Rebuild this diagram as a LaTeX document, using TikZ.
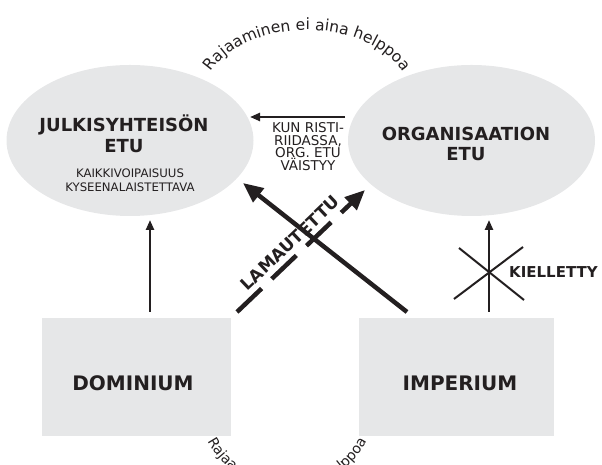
\documentclass[tikz,border=0pt]{standalone}
\usepackage{fontspec}
\setmainfont{DejaVu Sans}
\usetikzlibrary{arrows.meta,decorations.text,shapes.geometric}
\definecolor{ink}{HTML}{231F20}
\definecolor{pale}{HTML}{E6E7E8}
\newcommand\arcfnt{\fontsize{15.6}{17}\selectfont}
\newcommand\arcfntb{\fontsize{14}{16}\selectfont}
\begin{document}
\begin{tikzpicture}[x=1pt,y=1pt,
  blob/.style={ellipse, fill=pale, minimum width=247pt, minimum height=151pt, inner sep=0pt},
  slab/.style={rectangle, fill=pale, minimum height=118pt, inner sep=0pt},
  headtxt/.style={font=\bfseries\fontsize{18}{20.5}\selectfont, text=ink, align=center, inner sep=0pt},
  subtxt/.style={font=\fontsize{11.7}{14}\selectfont, text=ink, align=center, inner sep=0pt},
  boxtxt/.style={font=\bfseries\fontsize{20}{24}\selectfont, text=ink, inner sep=0pt},
  notetxt/.style={font=\fontsize{13.5}{12.3}\selectfont, text=ink, align=center, inner sep=0pt},
  thinarrow/.style={draw=ink, line width=2.3pt, -{Triangle[length=10pt,width=8pt]}},
  thickarrow/.style={draw=ink, line width=4.5pt, -{Triangle[length=20pt,width=17pt]}},
  crossline/.style={draw=ink, line width=2pt}
]
\useasboundingbox (0,0) rectangle (602,465);

% ellipses and boxes
\node[blob] (pub) at (130,324.5) {};
\node[blob] (org) at (471.5,324.5) {};
\node[slab, minimum width=189pt] (dom) at (136.5,88) {};
\node[slab, minimum width=195pt] (imp) at (456.5,88) {};

% texts
\node[headtxt] (pubt) at (124,331) {JULKISYHTEISÖN\\ETU};
\node[subtxt] (pubs) at (130,284.5) {KAIKKIVOIPAISUUS\\KYSEENALAISTETTAVA};
\node[headtxt] (orgt) at (466,321) {ORGANISAATION\\ETU};
\node[boxtxt] (domt) at (133,82) {DOMINIUM};
\node[boxtxt] (impt) at (460,82) {IMPERIUM};
\node[notetxt] (note) at (308,318) {KUN RISTI-\\RIIDASSA,\\ORG. ETU\\VÄISTYY};
\node[font=\bfseries\fontsize{15}{17}\selectfont, text=ink, anchor=west, inner sep=0pt] (ban) at (509,193) {KIELLETTY};
\node[font=\bfseries\fontsize{17}{20}\selectfont, text=ink, rotate=43.6, inner sep=0pt] (lam) at (290,222) {LAMAUTETTU};

% connectors
\coordinate (hA) at (345,348);
\coordinate (hB) at (250,348);
\draw[thinarrow] (hA) -- (hB);

\coordinate (vA) at (150,153);
\coordinate (vB) at (150,245);
\draw[thinarrow] (vA) -- (vB);

\coordinate (wA) at (489,153);
\coordinate (wB) at (489,245);
\draw[thinarrow] (wA) -- (wB);

\coordinate (xA) at (459,217);
\coordinate (xB) at (524,165);
\coordinate (xC) at (523,218);
\coordinate (xD) at (454,166);
\draw[crossline] (xA) -- (xB);
\draw[crossline] (xC) -- (xD);

\coordinate (sA) at (407,153);
\coordinate (sB) at (243,282);
\draw[thickarrow] (sA) -- (sB);

\coordinate (dA) at (237,153);
\coordinate (dB) at (365,275);
\draw[thickarrow, dash pattern=on 34pt off 14pt] (dA) -- (dB);

% arc texts
\path[decorate, decoration={text along path, text={|\arcfnt|Rajaaminen ei aina helppoa}, text align=center, text color=ink}]
  (205.58,383.12) arc[start angle=165, end angle=15, x radius=105, y radius=70];
\path[decorate, decoration={text along path, text={|\arcfntb|Rajaaminen ei aina helppoa}, text align=center, text color=ink}]
  (200.1,42.3) arc[start angle=195, end angle=345, radius=90];
\end{tikzpicture}
\end{document}
